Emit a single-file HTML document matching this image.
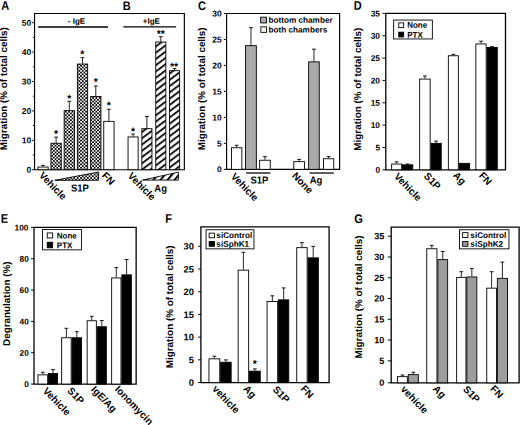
<!DOCTYPE html>
<html><head><meta charset="utf-8"><style>
html,body{margin:0;padding:0;background:#fff;width:520px;height:425px;overflow:hidden}
svg{display:block}
text{font-family:"Liberation Sans",sans-serif;font-weight:bold}
svg{text-rendering:geometricPrecision}
</style></head><body>
<svg width="520" height="425" viewBox="0 0 520 425">
<defs><pattern id="chk" patternUnits="userSpaceOnUse" x="0.3" y="0.3" width="3.4" height="3.4"><rect width="3.4" height="3.4" fill="#000"/><rect x="0" y="0" width="1.7" height="1.7" fill="#fff"/><rect x="1.7" y="1.7" width="1.7" height="1.7" fill="#fff"/></pattern><pattern id="hatch" patternUnits="userSpaceOnUse" width="5.0" height="5.0" patternTransform="rotate(-37)"><rect width="5.0" height="5.0" fill="#fff"/><rect width="5.0" height="1.75" fill="#000"/></pattern><pattern id="hatch2" patternUnits="userSpaceOnUse" x="0.5" width="5.4" height="5.4" patternTransform="rotate(-50)"><rect width="5.4" height="5.4" fill="#fff"/><rect width="5.4" height="2.0" fill="#000"/></pattern></defs>
<rect width="520" height="425" fill="#fff"/>
<path d="M34.55,169.7 V13.5 H184.35 V169.7 Z" fill="none" stroke="#000" stroke-width="1.15"/>
<line x1="32.05" y1="169.7" x2="34.55" y2="169.7" stroke="#000" stroke-width="0.95"/>
<line x1="32.05" y1="140.3" x2="34.55" y2="140.3" stroke="#000" stroke-width="0.95"/>
<line x1="32.05" y1="110.9" x2="34.55" y2="110.9" stroke="#000" stroke-width="0.95"/>
<line x1="32.05" y1="81.5" x2="34.55" y2="81.5" stroke="#000" stroke-width="0.95"/>
<line x1="32.05" y1="52.1" x2="34.55" y2="52.1" stroke="#000" stroke-width="0.95"/>
<line x1="32.05" y1="22.7" x2="34.55" y2="22.7" stroke="#000" stroke-width="0.95"/>
<line x1="32.95" y1="155" x2="34.55" y2="155" stroke="#000" stroke-width="0.95"/>
<line x1="32.95" y1="125.6" x2="34.55" y2="125.6" stroke="#000" stroke-width="0.95"/>
<line x1="32.95" y1="96.2" x2="34.55" y2="96.2" stroke="#000" stroke-width="0.95"/>
<line x1="32.95" y1="66.8" x2="34.55" y2="66.8" stroke="#000" stroke-width="0.95"/>
<line x1="32.95" y1="37.4" x2="34.55" y2="37.4" stroke="#000" stroke-width="0.95"/>
<line x1="38.1" y1="27" x2="108.1" y2="27" stroke="#000" stroke-width="1.35"/>
<line x1="123.3" y1="26.8" x2="176.1" y2="26.8" stroke="#000" stroke-width="1.35"/>
<line x1="43.05" y1="166.6" x2="43.05" y2="165.4" stroke="#000" stroke-width="0.85"/>
<line x1="41.15" y1="165.4" x2="44.95" y2="165.4" stroke="#000" stroke-width="0.9"/>
<rect x="37.95" y="167.05" width="10.2" height="2.65" fill="#fff" stroke="#000" stroke-width="0.9"/>
<line x1="56.1" y1="142.8" x2="56.1" y2="137.1" stroke="#000" stroke-width="0.85"/>
<line x1="54.2" y1="137.1" x2="58" y2="137.1" stroke="#000" stroke-width="0.9"/>
<rect x="50.95" y="143.25" width="10.3" height="26.45" fill="url(#chk)" stroke="#000" stroke-width="0.9"/>
<line x1="69.3" y1="110.2" x2="69.3" y2="101.3" stroke="#000" stroke-width="0.85"/>
<line x1="67.4" y1="101.3" x2="71.2" y2="101.3" stroke="#000" stroke-width="0.9"/>
<rect x="64.15" y="110.65" width="10.3" height="59.05" fill="url(#chk)" stroke="#000" stroke-width="0.9"/>
<line x1="82.5" y1="63.6" x2="82.5" y2="57.6" stroke="#000" stroke-width="0.85"/>
<line x1="80.6" y1="57.6" x2="84.4" y2="57.6" stroke="#000" stroke-width="0.9"/>
<rect x="77.35" y="64.05" width="10.3" height="105.65" fill="url(#chk)" stroke="#000" stroke-width="0.9"/>
<line x1="95.8" y1="96" x2="95.8" y2="86" stroke="#000" stroke-width="0.85"/>
<line x1="93.9" y1="86" x2="97.7" y2="86" stroke="#000" stroke-width="0.9"/>
<rect x="90.65" y="96.45" width="10.3" height="73.25" fill="url(#chk)" stroke="#000" stroke-width="0.9"/>
<line x1="108.9" y1="120.9" x2="108.9" y2="109.3" stroke="#000" stroke-width="0.85"/>
<line x1="107" y1="109.3" x2="110.8" y2="109.3" stroke="#000" stroke-width="0.9"/>
<rect x="103.75" y="121.35" width="10.3" height="48.35" fill="#fff" stroke="#000" stroke-width="0.9"/>
<line x1="133.1" y1="136.5" x2="133.1" y2="134.1" stroke="#000" stroke-width="0.85"/>
<line x1="131.2" y1="134.1" x2="135" y2="134.1" stroke="#000" stroke-width="0.9"/>
<rect x="128.05" y="136.95" width="10.1" height="32.75" fill="#fff" stroke="#000" stroke-width="0.9"/>
<line x1="146.9" y1="128.2" x2="146.9" y2="116.5" stroke="#000" stroke-width="0.85"/>
<line x1="145" y1="116.5" x2="148.8" y2="116.5" stroke="#000" stroke-width="0.9"/>
<rect x="141.85" y="128.65" width="10.1" height="41.05" fill="url(#hatch)" stroke="#000" stroke-width="0.9"/>
<line x1="160.8" y1="41.6" x2="160.8" y2="36.7" stroke="#000" stroke-width="0.85"/>
<line x1="158.9" y1="36.7" x2="162.7" y2="36.7" stroke="#000" stroke-width="0.9"/>
<rect x="155.75" y="42.05" width="10.1" height="127.65" fill="url(#hatch)" stroke="#000" stroke-width="0.9"/>
<line x1="174.6" y1="70.2" x2="174.6" y2="68.6" stroke="#000" stroke-width="0.85"/>
<line x1="172.7" y1="68.6" x2="176.5" y2="68.6" stroke="#000" stroke-width="0.9"/>
<rect x="169.55" y="70.65" width="10.1" height="99.05" fill="url(#hatch)" stroke="#000" stroke-width="0.9"/>
<path d="M54.9,180.3 L98.6,172.0 L98.6,180.3 Z" fill="url(#chk)" stroke="#000" stroke-width="0.9" stroke-linejoin="miter"/>
<path d="M142.6,180.1 L178.4,172.2 L178.4,180.1 Z" fill="url(#hatch2)" stroke="#000" stroke-width="0.9"/>
<path d="M226.6,169.35 V13.5 H339.6 V169.35 Z" fill="none" stroke="#000" stroke-width="1.15"/>
<line x1="223.8" y1="169.35" x2="226.6" y2="169.35" stroke="#000" stroke-width="0.95"/>
<line x1="223.8" y1="143.38" x2="226.6" y2="143.38" stroke="#000" stroke-width="0.95"/>
<line x1="223.8" y1="117.4" x2="226.6" y2="117.4" stroke="#000" stroke-width="0.95"/>
<line x1="223.8" y1="91.42" x2="226.6" y2="91.42" stroke="#000" stroke-width="0.95"/>
<line x1="223.8" y1="65.45" x2="226.6" y2="65.45" stroke="#000" stroke-width="0.95"/>
<line x1="223.8" y1="39.47" x2="226.6" y2="39.47" stroke="#000" stroke-width="0.95"/>
<line x1="223.8" y1="13.5" x2="226.6" y2="13.5" stroke="#000" stroke-width="0.95"/>
<line x1="236.65" y1="147.3" x2="236.65" y2="145.3" stroke="#000" stroke-width="0.85"/>
<line x1="234.75" y1="145.3" x2="238.55" y2="145.3" stroke="#000" stroke-width="0.9"/>
<rect x="231.45" y="147.75" width="10.4" height="21.6" fill="#fff" stroke="#000" stroke-width="0.9"/>
<line x1="250.95" y1="45.2" x2="250.95" y2="27.7" stroke="#000" stroke-width="0.85"/>
<line x1="249.05" y1="27.7" x2="252.85" y2="27.7" stroke="#000" stroke-width="0.9"/>
<rect x="245.55" y="45.65" width="10.8" height="123.7" fill="#aaaaaa" stroke="#000" stroke-width="0.9"/>
<line x1="264.95" y1="159.8" x2="264.95" y2="156.7" stroke="#000" stroke-width="0.85"/>
<line x1="263.05" y1="156.7" x2="266.85" y2="156.7" stroke="#000" stroke-width="0.9"/>
<rect x="259.65" y="160.25" width="10.6" height="9.1" fill="#fff" stroke="#000" stroke-width="0.9"/>
<line x1="299.15" y1="161.2" x2="299.15" y2="159.4" stroke="#000" stroke-width="0.85"/>
<line x1="297.25" y1="159.4" x2="301.05" y2="159.4" stroke="#000" stroke-width="0.9"/>
<rect x="293.75" y="161.65" width="10.8" height="7.7" fill="#fff" stroke="#000" stroke-width="0.9"/>
<line x1="313.95" y1="61.4" x2="313.95" y2="49.2" stroke="#000" stroke-width="0.85"/>
<line x1="312.05" y1="49.2" x2="315.85" y2="49.2" stroke="#000" stroke-width="0.9"/>
<rect x="308.65" y="61.85" width="10.6" height="107.5" fill="#aaaaaa" stroke="#000" stroke-width="0.9"/>
<line x1="328.6" y1="158.3" x2="328.6" y2="156.6" stroke="#000" stroke-width="0.85"/>
<line x1="326.7" y1="156.6" x2="330.5" y2="156.6" stroke="#000" stroke-width="0.9"/>
<rect x="323.45" y="158.75" width="10.3" height="10.6" fill="#fff" stroke="#000" stroke-width="0.9"/>
<rect x="260.65" y="17.15" width="5.9" height="5.8" fill="#aaaaaa" stroke="#000" stroke-width="0.9"/>
<rect x="260.85" y="26.85" width="5.7" height="5.5" fill="#fff" stroke="#000" stroke-width="0.9"/>
<line x1="246.1" y1="173" x2="270.4" y2="173" stroke="#000" stroke-width="1.25"/>
<line x1="309.6" y1="173" x2="333.8" y2="173" stroke="#000" stroke-width="1.25"/>
<path d="M385.8,169.8 V13.4 H505.5 V169.8 Z" fill="none" stroke="#000" stroke-width="1.3"/>
<line x1="382.4" y1="169.8" x2="385.8" y2="169.8" stroke="#000" stroke-width="0.95"/>
<line x1="382.4" y1="147.46" x2="385.8" y2="147.46" stroke="#000" stroke-width="0.95"/>
<line x1="382.4" y1="125.11" x2="385.8" y2="125.11" stroke="#000" stroke-width="0.95"/>
<line x1="382.4" y1="102.77" x2="385.8" y2="102.77" stroke="#000" stroke-width="0.95"/>
<line x1="382.4" y1="80.42" x2="385.8" y2="80.42" stroke="#000" stroke-width="0.95"/>
<line x1="382.4" y1="58.08" x2="385.8" y2="58.08" stroke="#000" stroke-width="0.95"/>
<line x1="382.4" y1="35.73" x2="385.8" y2="35.73" stroke="#000" stroke-width="0.95"/>
<line x1="382.4" y1="13.38" x2="385.8" y2="13.38" stroke="#000" stroke-width="0.95"/>
<line x1="396.65" y1="163.6" x2="396.65" y2="161.8" stroke="#000" stroke-width="0.85"/>
<line x1="394.75" y1="161.8" x2="398.55" y2="161.8" stroke="#000" stroke-width="0.9"/>
<rect x="391.65" y="164.05" width="10" height="5.75" fill="#fff" stroke="#000" stroke-width="0.9"/>
<line x1="407.65" y1="164.4" x2="407.65" y2="164" stroke="#000" stroke-width="0.85"/>
<line x1="405.75" y1="164" x2="409.55" y2="164" stroke="#000" stroke-width="0.9"/>
<rect x="402.55" y="164.85" width="10.2" height="4.95" fill="#000" stroke="#000" stroke-width="0.9"/>
<line x1="424.9" y1="78.6" x2="424.9" y2="76" stroke="#000" stroke-width="0.85"/>
<line x1="423" y1="76" x2="426.8" y2="76" stroke="#000" stroke-width="0.9"/>
<rect x="419.65" y="79.05" width="10.5" height="90.75" fill="#fff" stroke="#000" stroke-width="0.9"/>
<line x1="436.15" y1="142.9" x2="436.15" y2="141.1" stroke="#000" stroke-width="0.85"/>
<line x1="434.25" y1="141.1" x2="438.05" y2="141.1" stroke="#000" stroke-width="0.9"/>
<rect x="431.05" y="143.35" width="10.2" height="26.45" fill="#000" stroke="#000" stroke-width="0.9"/>
<line x1="453.35" y1="55.3" x2="453.35" y2="54.4" stroke="#000" stroke-width="0.85"/>
<line x1="451.45" y1="54.4" x2="455.25" y2="54.4" stroke="#000" stroke-width="0.9"/>
<rect x="448.35" y="55.75" width="10" height="114.05" fill="#fff" stroke="#000" stroke-width="0.9"/>
<rect x="459.25" y="163.35" width="10.4" height="6.45" fill="#000" stroke="#000" stroke-width="0.9"/>
<line x1="481" y1="43.5" x2="481" y2="41.2" stroke="#000" stroke-width="0.85"/>
<line x1="479.1" y1="41.2" x2="482.9" y2="41.2" stroke="#000" stroke-width="0.9"/>
<rect x="475.85" y="43.95" width="10.3" height="125.85" fill="#fff" stroke="#000" stroke-width="0.9"/>
<line x1="492.15" y1="47" x2="492.15" y2="46.6" stroke="#000" stroke-width="0.85"/>
<line x1="490.25" y1="46.6" x2="494.05" y2="46.6" stroke="#000" stroke-width="0.9"/>
<rect x="487.05" y="47.45" width="10.2" height="122.35" fill="#000" stroke="#000" stroke-width="0.9"/>
<rect x="393.65" y="20.05" width="38.7" height="18.9" fill="#fff" stroke="#000" stroke-width="0.9"/>
<rect x="398.75" y="22.85" width="4.9" height="4.8" fill="#fff" stroke="#000" stroke-width="0.9"/>
<rect x="398.75" y="32.15" width="4.9" height="4.8" fill="#000" stroke="#000" stroke-width="0.9"/>
<path d="M34,384.05 V227.45 H136.15 V384.05 Z" fill="none" stroke="#000" stroke-width="1.3"/>
<line x1="30.9" y1="384.05" x2="34" y2="384.05" stroke="#000" stroke-width="0.95"/>
<line x1="30.9" y1="352.73" x2="34" y2="352.73" stroke="#000" stroke-width="0.95"/>
<line x1="30.9" y1="321.41" x2="34" y2="321.41" stroke="#000" stroke-width="0.95"/>
<line x1="30.9" y1="290.09" x2="34" y2="290.09" stroke="#000" stroke-width="0.95"/>
<line x1="30.9" y1="258.77" x2="34" y2="258.77" stroke="#000" stroke-width="0.95"/>
<line x1="30.9" y1="227.45" x2="34" y2="227.45" stroke="#000" stroke-width="0.95"/>
<line x1="42.8" y1="374.4" x2="42.8" y2="372.3" stroke="#000" stroke-width="0.85"/>
<line x1="40.9" y1="372.3" x2="44.7" y2="372.3" stroke="#000" stroke-width="0.9"/>
<rect x="37.95" y="374.85" width="9.7" height="9.2" fill="#fff" stroke="#000" stroke-width="0.9"/>
<line x1="53.05" y1="373.1" x2="53.05" y2="369.6" stroke="#000" stroke-width="0.85"/>
<line x1="51.15" y1="369.6" x2="54.95" y2="369.6" stroke="#000" stroke-width="0.9"/>
<rect x="48.55" y="373.55" width="9" height="10.5" fill="#000" stroke="#000" stroke-width="0.9"/>
<line x1="66.4" y1="337.3" x2="66.4" y2="328.3" stroke="#000" stroke-width="0.85"/>
<line x1="64.5" y1="328.3" x2="68.3" y2="328.3" stroke="#000" stroke-width="0.9"/>
<rect x="61.65" y="337.75" width="9.5" height="46.3" fill="#fff" stroke="#000" stroke-width="0.9"/>
<line x1="76.8" y1="337.3" x2="76.8" y2="331.7" stroke="#000" stroke-width="0.85"/>
<line x1="74.9" y1="331.7" x2="78.7" y2="331.7" stroke="#000" stroke-width="0.9"/>
<rect x="72.05" y="337.75" width="9.5" height="46.3" fill="#000" stroke="#000" stroke-width="0.9"/>
<line x1="91.75" y1="320.3" x2="91.75" y2="316.3" stroke="#000" stroke-width="0.85"/>
<line x1="89.85" y1="316.3" x2="93.65" y2="316.3" stroke="#000" stroke-width="0.9"/>
<rect x="87.15" y="320.75" width="9.2" height="63.3" fill="#fff" stroke="#000" stroke-width="0.9"/>
<line x1="101.8" y1="326.3" x2="101.8" y2="320.5" stroke="#000" stroke-width="0.85"/>
<line x1="99.9" y1="320.5" x2="103.7" y2="320.5" stroke="#000" stroke-width="0.9"/>
<rect x="97.25" y="326.75" width="9.1" height="57.3" fill="#000" stroke="#000" stroke-width="0.9"/>
<line x1="116.3" y1="277.5" x2="116.3" y2="267.6" stroke="#000" stroke-width="0.85"/>
<line x1="114.4" y1="267.6" x2="118.2" y2="267.6" stroke="#000" stroke-width="0.9"/>
<rect x="111.65" y="277.95" width="9.3" height="106.1" fill="#fff" stroke="#000" stroke-width="0.9"/>
<line x1="126.6" y1="274.4" x2="126.6" y2="259.5" stroke="#000" stroke-width="0.85"/>
<line x1="124.7" y1="259.5" x2="128.5" y2="259.5" stroke="#000" stroke-width="0.9"/>
<rect x="121.85" y="274.85" width="9.5" height="109.2" fill="#000" stroke="#000" stroke-width="0.9"/>
<rect x="42.55" y="229.55" width="38.9" height="20.3" fill="#fff" stroke="#000" stroke-width="0.9"/>
<rect x="47.25" y="232.95" width="5.4" height="5" fill="#fff" stroke="#000" stroke-width="0.9"/>
<rect x="47.25" y="242.25" width="5.4" height="5.5" fill="#000" stroke="#000" stroke-width="0.9"/>
<path d="M200.9,382.6 V226.8 H329.1 V382.6 Z" fill="none" stroke="#000" stroke-width="1.3"/>
<line x1="198.1" y1="382.5" x2="200.9" y2="382.5" stroke="#000" stroke-width="0.95"/>
<line x1="198.1" y1="359.8" x2="200.9" y2="359.8" stroke="#000" stroke-width="0.95"/>
<line x1="198.1" y1="337.1" x2="200.9" y2="337.1" stroke="#000" stroke-width="0.95"/>
<line x1="198.1" y1="314.4" x2="200.9" y2="314.4" stroke="#000" stroke-width="0.95"/>
<line x1="198.1" y1="291.7" x2="200.9" y2="291.7" stroke="#000" stroke-width="0.95"/>
<line x1="198.1" y1="269" x2="200.9" y2="269" stroke="#000" stroke-width="0.95"/>
<line x1="198.1" y1="246.3" x2="200.9" y2="246.3" stroke="#000" stroke-width="0.95"/>
<line x1="214.35" y1="358.4" x2="214.35" y2="356.2" stroke="#000" stroke-width="0.85"/>
<line x1="212.45" y1="356.2" x2="216.25" y2="356.2" stroke="#000" stroke-width="0.9"/>
<rect x="208.95" y="358.85" width="10.8" height="23.75" fill="#fff" stroke="#000" stroke-width="0.9"/>
<line x1="225.9" y1="361.8" x2="225.9" y2="359.9" stroke="#000" stroke-width="0.85"/>
<line x1="224" y1="359.9" x2="227.8" y2="359.9" stroke="#000" stroke-width="0.9"/>
<rect x="220.65" y="362.25" width="10.5" height="20.35" fill="#000" stroke="#000" stroke-width="0.9"/>
<line x1="243.4" y1="269.7" x2="243.4" y2="252.3" stroke="#000" stroke-width="0.85"/>
<line x1="241.5" y1="252.3" x2="245.3" y2="252.3" stroke="#000" stroke-width="0.9"/>
<rect x="238.15" y="270.15" width="10.5" height="112.45" fill="#fff" stroke="#000" stroke-width="0.9"/>
<line x1="254.9" y1="370.7" x2="254.9" y2="368.9" stroke="#000" stroke-width="0.85"/>
<line x1="253" y1="368.9" x2="256.8" y2="368.9" stroke="#000" stroke-width="0.9"/>
<rect x="249.55" y="371.15" width="10.7" height="11.45" fill="#000" stroke="#000" stroke-width="0.9"/>
<line x1="272.35" y1="301.1" x2="272.35" y2="295.8" stroke="#000" stroke-width="0.85"/>
<line x1="270.45" y1="295.8" x2="274.25" y2="295.8" stroke="#000" stroke-width="0.9"/>
<rect x="267.05" y="301.55" width="10.6" height="81.05" fill="#fff" stroke="#000" stroke-width="0.9"/>
<line x1="283.65" y1="299.4" x2="283.65" y2="287.9" stroke="#000" stroke-width="0.85"/>
<line x1="281.75" y1="287.9" x2="285.55" y2="287.9" stroke="#000" stroke-width="0.9"/>
<rect x="278.55" y="299.85" width="10.2" height="82.75" fill="#000" stroke="#000" stroke-width="0.9"/>
<line x1="301.95" y1="247.2" x2="301.95" y2="242.6" stroke="#000" stroke-width="0.85"/>
<line x1="300.05" y1="242.6" x2="303.85" y2="242.6" stroke="#000" stroke-width="0.9"/>
<rect x="296.75" y="247.65" width="10.4" height="134.95" fill="#fff" stroke="#000" stroke-width="0.9"/>
<line x1="313.2" y1="257.4" x2="313.2" y2="246.4" stroke="#000" stroke-width="0.85"/>
<line x1="311.3" y1="246.4" x2="315.1" y2="246.4" stroke="#000" stroke-width="0.9"/>
<rect x="308.05" y="257.85" width="10.3" height="124.75" fill="#000" stroke="#000" stroke-width="0.9"/>
<rect x="206.05" y="229.75" width="47.9" height="19.1" fill="#fff" stroke="#000" stroke-width="0.9"/>
<rect x="209.15" y="233.15" width="5.3" height="4.6" fill="#fff" stroke="#000" stroke-width="0.9"/>
<rect x="209.15" y="241.45" width="5.3" height="4.8" fill="#000" stroke="#000" stroke-width="0.9"/>
<path d="M391.2,382.8 V227.1 H519.1 V382.8 Z" fill="none" stroke="#000" stroke-width="1.3"/>
<line x1="387.8" y1="382.75" x2="391.2" y2="382.75" stroke="#000" stroke-width="0.95"/>
<line x1="387.8" y1="360.83" x2="391.2" y2="360.83" stroke="#000" stroke-width="0.95"/>
<line x1="387.8" y1="340.06" x2="391.2" y2="340.06" stroke="#000" stroke-width="0.95"/>
<line x1="387.8" y1="319.29" x2="391.2" y2="319.29" stroke="#000" stroke-width="0.95"/>
<line x1="387.8" y1="298.52" x2="391.2" y2="298.52" stroke="#000" stroke-width="0.95"/>
<line x1="387.8" y1="277.75" x2="391.2" y2="277.75" stroke="#000" stroke-width="0.95"/>
<line x1="387.8" y1="256.98" x2="391.2" y2="256.98" stroke="#000" stroke-width="0.95"/>
<line x1="387.8" y1="236.21" x2="391.2" y2="236.21" stroke="#000" stroke-width="0.95"/>
<line x1="402.45" y1="376.2" x2="402.45" y2="375" stroke="#000" stroke-width="0.85"/>
<line x1="400.55" y1="375" x2="404.35" y2="375" stroke="#000" stroke-width="0.9"/>
<rect x="397.55" y="376.65" width="9.8" height="6.15" fill="#fff" stroke="#000" stroke-width="0.9"/>
<line x1="413.3" y1="374.2" x2="413.3" y2="372.3" stroke="#000" stroke-width="0.85"/>
<line x1="411.4" y1="372.3" x2="415.2" y2="372.3" stroke="#000" stroke-width="0.9"/>
<rect x="408.25" y="374.65" width="10.1" height="8.15" fill="#9d9d9d" stroke="#000" stroke-width="0.9"/>
<line x1="431.85" y1="248.3" x2="431.85" y2="245.4" stroke="#000" stroke-width="0.85"/>
<line x1="429.95" y1="245.4" x2="433.75" y2="245.4" stroke="#000" stroke-width="0.9"/>
<rect x="426.75" y="248.75" width="10.2" height="134.05" fill="#fff" stroke="#000" stroke-width="0.9"/>
<line x1="442.75" y1="259.2" x2="442.75" y2="251.5" stroke="#000" stroke-width="0.85"/>
<line x1="440.85" y1="251.5" x2="444.65" y2="251.5" stroke="#000" stroke-width="0.9"/>
<rect x="437.85" y="259.65" width="9.8" height="123.15" fill="#9d9d9d" stroke="#000" stroke-width="0.9"/>
<line x1="461.3" y1="276.9" x2="461.3" y2="271.7" stroke="#000" stroke-width="0.85"/>
<line x1="459.4" y1="271.7" x2="463.2" y2="271.7" stroke="#000" stroke-width="0.9"/>
<rect x="456.65" y="277.35" width="9.3" height="105.45" fill="#fff" stroke="#000" stroke-width="0.9"/>
<line x1="471.85" y1="276.5" x2="471.85" y2="268.5" stroke="#000" stroke-width="0.85"/>
<line x1="469.95" y1="268.5" x2="473.75" y2="268.5" stroke="#000" stroke-width="0.9"/>
<rect x="466.85" y="276.95" width="10" height="105.85" fill="#9d9d9d" stroke="#000" stroke-width="0.9"/>
<line x1="491.6" y1="287.7" x2="491.6" y2="271.7" stroke="#000" stroke-width="0.85"/>
<line x1="489.7" y1="271.7" x2="493.5" y2="271.7" stroke="#000" stroke-width="0.9"/>
<rect x="486.75" y="288.15" width="9.7" height="94.65" fill="#fff" stroke="#000" stroke-width="0.9"/>
<line x1="502.4" y1="277.9" x2="502.4" y2="262.1" stroke="#000" stroke-width="0.85"/>
<line x1="500.5" y1="262.1" x2="504.3" y2="262.1" stroke="#000" stroke-width="0.9"/>
<rect x="497.35" y="278.35" width="10.1" height="104.45" fill="#9d9d9d" stroke="#000" stroke-width="0.9"/>
<rect x="459.45" y="229.75" width="49.5" height="19.1" fill="#fff" stroke="#000" stroke-width="0.9"/>
<rect x="462.65" y="232.65" width="5.3" height="4.8" fill="#fff" stroke="#000" stroke-width="0.9"/>
<rect x="462.65" y="241.45" width="5.3" height="4.8" fill="#9d9d9d" stroke="#000" stroke-width="0.9"/>
<text transform="translate(26.58,172.7) rotate(0.05)" font-size="8.5" font-family="Liberation Sans" font-weight="bold">0</text>
<text transform="translate(21.78,143.3) rotate(0.05)" font-size="8.5" font-family="Liberation Sans" font-weight="bold">10</text>
<text transform="translate(21.78,113.9) rotate(0.05)" font-size="8.5" font-family="Liberation Sans" font-weight="bold">20</text>
<text transform="translate(21.78,84.5) rotate(0.05)" font-size="8.5" font-family="Liberation Sans" font-weight="bold">30</text>
<text transform="translate(21.78,55.1) rotate(0.05)" font-size="8.5" font-family="Liberation Sans" font-weight="bold">40</text>
<text transform="translate(21.78,25.7) rotate(0.05)" font-size="8.5" font-family="Liberation Sans" font-weight="bold">50</text>
<text transform="translate(1.27,9.84) rotate(0.05) scale(0.89,1)" font-size="12.4" font-family="Liberation Sans" font-weight="bold">A</text>
<text transform="translate(122.87,9.9) rotate(0.05) scale(0.89,1)" font-size="12.4" font-family="Liberation Sans" font-weight="bold">B</text>
<text transform="translate(7.15,150.15) rotate(-90)" font-size="9.9" font-family="Liberation Sans" font-weight="bold">Migration (% of total cells)</text>
<text transform="translate(67.83,23.7) rotate(0.05)" font-size="8" font-family="Liberation Sans" font-weight="bold">- IgE</text>
<text transform="translate(142.83,23.7) rotate(0.05)" font-size="8" font-family="Liberation Sans" font-weight="bold">+IgE</text>
<text transform="translate(54.06,137.2) rotate(0.05)" font-size="10.5" font-family="Liberation Sans" font-weight="bold">*</text>
<text transform="translate(67.26,102) rotate(0.05)" font-size="10.5" font-family="Liberation Sans" font-weight="bold">*</text>
<text transform="translate(80.26,57.6) rotate(0.05)" font-size="10.5" font-family="Liberation Sans" font-weight="bold">*</text>
<text transform="translate(93.76,85.3) rotate(0.05)" font-size="10.5" font-family="Liberation Sans" font-weight="bold">*</text>
<text transform="translate(106.86,108.8) rotate(0.05)" font-size="10.5" font-family="Liberation Sans" font-weight="bold">*</text>
<text transform="translate(131.06,134.8) rotate(0.05)" font-size="10.5" font-family="Liberation Sans" font-weight="bold">*</text>
<text transform="translate(156.76,37.3) rotate(0.05)" font-size="10.5" font-family="Liberation Sans" font-weight="bold">**</text>
<text transform="translate(169.96,70.1) rotate(0.05)" font-size="10.5" font-family="Liberation Sans" font-weight="bold">**</text>
<text transform="translate(70.91,191.6) rotate(0.05) scale(0.93,1)" font-size="10.2" font-family="Liberation Sans" font-weight="bold">S1P</text>
<text transform="translate(154.3,191.63) rotate(0.05) scale(0.93,1)" font-size="10.2" font-family="Liberation Sans" font-weight="bold">Ag</text>
<text transform="translate(38.44,175.83) rotate(46)" font-size="10" font-family="Liberation Sans" font-weight="bold">Vehicle</text>
<text transform="translate(101.18,176.05) rotate(46)" font-size="10" font-family="Liberation Sans" font-weight="bold">FN</text>
<text transform="translate(127.34,176.28) rotate(46)" font-size="10" font-family="Liberation Sans" font-weight="bold">Vehicle</text>
<text transform="translate(216.98,172.35) rotate(0.05)" font-size="8.5" font-family="Liberation Sans" font-weight="bold">0</text>
<text transform="translate(216.93,146.38) rotate(0.05)" font-size="8.5" font-family="Liberation Sans" font-weight="bold">5</text>
<text transform="translate(212.18,120.4) rotate(0.05)" font-size="8.5" font-family="Liberation Sans" font-weight="bold">10</text>
<text transform="translate(212.15,94.42) rotate(0.05)" font-size="8.5" font-family="Liberation Sans" font-weight="bold">15</text>
<text transform="translate(212.18,68.45) rotate(0.05)" font-size="8.5" font-family="Liberation Sans" font-weight="bold">20</text>
<text transform="translate(212.15,42.47) rotate(0.05)" font-size="8.5" font-family="Liberation Sans" font-weight="bold">25</text>
<text transform="translate(212.18,16.5) rotate(0.05)" font-size="8.5" font-family="Liberation Sans" font-weight="bold">30</text>
<text transform="translate(198.08,9.9) rotate(0.05) scale(0.89,1)" font-size="12.4" font-family="Liberation Sans" font-weight="bold">C</text>
<text transform="translate(205.2,150.25) rotate(-90)" font-size="9.9" font-family="Liberation Sans" font-weight="bold">Migration (% of total cells)</text>
<text transform="translate(268.5,22.7) rotate(0.05)" font-size="8.2" font-family="Liberation Sans" font-weight="bold">bottom chamber</text>
<text transform="translate(268.5,32.4) rotate(0.05)" font-size="8.2" font-family="Liberation Sans" font-weight="bold">both chambers</text>
<text transform="translate(250.41,183.4) rotate(0.05) scale(0.93,1)" font-size="10.2" font-family="Liberation Sans" font-weight="bold">S1P</text>
<text transform="translate(309.75,183.43) rotate(0.05) scale(0.93,1)" font-size="10.2" font-family="Liberation Sans" font-weight="bold">Ag</text>
<text transform="translate(230.29,176.88) rotate(46)" font-size="10" font-family="Liberation Sans" font-weight="bold">Vehicle</text>
<text transform="translate(291.42,176.37) rotate(46)" font-size="10" font-family="Liberation Sans" font-weight="bold">None</text>
<text transform="translate(375.45,172.8) rotate(0.05)" font-size="8.3" font-family="Liberation Sans" font-weight="bold">0</text>
<text transform="translate(375.41,150.46) rotate(0.05)" font-size="8.3" font-family="Liberation Sans" font-weight="bold">5</text>
<text transform="translate(370.73,128.11) rotate(0.05)" font-size="8.3" font-family="Liberation Sans" font-weight="bold">10</text>
<text transform="translate(370.73,105.77) rotate(0.05)" font-size="8.3" font-family="Liberation Sans" font-weight="bold">15</text>
<text transform="translate(370.73,83.42) rotate(0.05)" font-size="8.3" font-family="Liberation Sans" font-weight="bold">20</text>
<text transform="translate(370.73,61.08) rotate(0.05)" font-size="8.3" font-family="Liberation Sans" font-weight="bold">25</text>
<text transform="translate(370.73,38.73) rotate(0.05)" font-size="8.3" font-family="Liberation Sans" font-weight="bold">30</text>
<text transform="translate(370.73,16.38) rotate(0.05)" font-size="8.3" font-family="Liberation Sans" font-weight="bold">35</text>
<text transform="translate(353.77,9.68) rotate(0.05) scale(0.89,1)" font-size="12.4" font-family="Liberation Sans" font-weight="bold">D</text>
<text transform="translate(361,150.65) rotate(-90)" font-size="9.9" font-family="Liberation Sans" font-weight="bold">Migration (% of total cells)</text>
<text transform="translate(407.22,27.7) rotate(0.05) scale(0.96,1)" font-size="8.3" font-family="Liberation Sans" font-weight="bold">None</text>
<text transform="translate(407.22,37.8) rotate(0.05) scale(0.96,1)" font-size="8.3" font-family="Liberation Sans" font-weight="bold">PTX</text>
<text transform="translate(393.54,176.88) rotate(46)" font-size="10" font-family="Liberation Sans" font-weight="bold">Vehicle</text>
<text transform="translate(423.27,176.61) rotate(46)" font-size="10" font-family="Liberation Sans" font-weight="bold">S1P</text>
<text transform="translate(452.56,175.8) rotate(46)" font-size="10" font-family="Liberation Sans" font-weight="bold">Ag</text>
<text transform="translate(478.38,176.05) rotate(46)" font-size="10" font-family="Liberation Sans" font-weight="bold">FN</text>
<text transform="translate(24.25,387.05) rotate(0.05)" font-size="8.3" font-family="Liberation Sans" font-weight="bold">0</text>
<text transform="translate(19.53,355.73) rotate(0.05)" font-size="8.3" font-family="Liberation Sans" font-weight="bold">20</text>
<text transform="translate(19.53,324.41) rotate(0.05)" font-size="8.3" font-family="Liberation Sans" font-weight="bold">40</text>
<text transform="translate(19.53,293.09) rotate(0.05)" font-size="8.3" font-family="Liberation Sans" font-weight="bold">60</text>
<text transform="translate(19.53,261.77) rotate(0.05)" font-size="8.3" font-family="Liberation Sans" font-weight="bold">80</text>
<text transform="translate(14.59,230.45) rotate(0.05)" font-size="8.3" font-family="Liberation Sans" font-weight="bold">100</text>
<text transform="translate(0.86,222.65) rotate(0.05) scale(0.89,1)" font-size="12.4" font-family="Liberation Sans" font-weight="bold">E</text>
<text transform="translate(10.4,345.95) rotate(-90)" font-size="9.9" font-family="Liberation Sans" font-weight="bold">Degranulation (%)</text>
<text transform="translate(56.82,238.4) rotate(0.05) scale(0.96,1)" font-size="8.3" font-family="Liberation Sans" font-weight="bold">None</text>
<text transform="translate(56.82,248.2) rotate(0.05) scale(0.96,1)" font-size="8.3" font-family="Liberation Sans" font-weight="bold">PTX</text>
<text transform="translate(42.34,391.43) rotate(46)" font-size="10" font-family="Liberation Sans" font-weight="bold">Vehicle</text>
<text transform="translate(66.82,391.26) rotate(46)" font-size="10" font-family="Liberation Sans" font-weight="bold">S1P</text>
<text transform="translate(90.58,390.07) rotate(46)" font-size="10" font-family="Liberation Sans" font-weight="bold">IgE/Ag</text>
<text transform="translate(114.24,389.78) rotate(46)" font-size="10" font-family="Liberation Sans" font-weight="bold">Ionomycin</text>
<text transform="translate(188.73,385.71) rotate(0.05)" font-size="9.4" font-family="Liberation Sans" font-weight="bold">0</text>
<text transform="translate(188.69,363.3) rotate(0.05)" font-size="9.4" font-family="Liberation Sans" font-weight="bold">5</text>
<text transform="translate(183.59,340.32) rotate(0.05)" font-size="9.4" font-family="Liberation Sans" font-weight="bold">10</text>
<text transform="translate(183.53,317.9) rotate(0.05)" font-size="9.4" font-family="Liberation Sans" font-weight="bold">15</text>
<text transform="translate(183.59,294.9) rotate(0.05)" font-size="9.4" font-family="Liberation Sans" font-weight="bold">20</text>
<text transform="translate(183.53,272.5) rotate(0.05)" font-size="9.4" font-family="Liberation Sans" font-weight="bold">25</text>
<text transform="translate(183.59,249.5) rotate(0.05)" font-size="9.4" font-family="Liberation Sans" font-weight="bold">30</text>
<text transform="translate(165.37,222.75) rotate(0.05) scale(0.89,1)" font-size="12.4" font-family="Liberation Sans" font-weight="bold">F</text>
<text transform="translate(172.6,368.25) rotate(-90)" font-size="9.9" font-family="Liberation Sans" font-weight="bold">Migration (% of total cells)</text>
<text transform="translate(252.66,367.2) rotate(0.05)" font-size="10.5" font-family="Liberation Sans" font-weight="bold">*</text>
<text transform="translate(216.35,237.9) rotate(0.05)" font-size="8.2" font-family="Liberation Sans" font-weight="bold">siControl</text>
<text transform="translate(216.35,246.7) rotate(0.05)" font-size="8.2" font-family="Liberation Sans" font-weight="bold">siSphK1</text>
<text transform="translate(211.85,389.58) rotate(46)" font-size="10" font-family="Liberation Sans" font-weight="bold">vehicle</text>
<text transform="translate(242.71,389.25) rotate(46)" font-size="10" font-family="Liberation Sans" font-weight="bold">Ag</text>
<text transform="translate(272.17,390.01) rotate(46)" font-size="10" font-family="Liberation Sans" font-weight="bold">S1P</text>
<text transform="translate(300.13,389.35) rotate(46)" font-size="10" font-family="Liberation Sans" font-weight="bold">FN</text>
<text transform="translate(379.17,385.83) rotate(0.05)" font-size="9.1" font-family="Liberation Sans" font-weight="bold">0</text>
<text transform="translate(379.15,363.96) rotate(0.05)" font-size="9.1" font-family="Liberation Sans" font-weight="bold">5</text>
<text transform="translate(374.17,343.16) rotate(0.05)" font-size="9.1" font-family="Liberation Sans" font-weight="bold">10</text>
<text transform="translate(374.15,322.42) rotate(0.05)" font-size="9.1" font-family="Liberation Sans" font-weight="bold">15</text>
<text transform="translate(374.17,301.6) rotate(0.05)" font-size="9.1" font-family="Liberation Sans" font-weight="bold">20</text>
<text transform="translate(374.15,280.88) rotate(0.05)" font-size="9.1" font-family="Liberation Sans" font-weight="bold">25</text>
<text transform="translate(374.17,260.07) rotate(0.05)" font-size="9.1" font-family="Liberation Sans" font-weight="bold">30</text>
<text transform="translate(374.15,239.34) rotate(0.05)" font-size="9.1" font-family="Liberation Sans" font-weight="bold">35</text>
<text transform="translate(354.14,222.88) rotate(0.05) scale(0.89,1)" font-size="12.4" font-family="Liberation Sans" font-weight="bold">G</text>
<text transform="translate(362,358.45) rotate(-90)" font-size="9.9" font-family="Liberation Sans" font-weight="bold">Migration (% of total cells)</text>
<text transform="translate(470.35,237.9) rotate(0.05)" font-size="8.2" font-family="Liberation Sans" font-weight="bold">siControl</text>
<text transform="translate(470.35,246.7) rotate(0.05)" font-size="8.2" font-family="Liberation Sans" font-weight="bold">siSphK2</text>
<text transform="translate(400.25,389.78) rotate(46)" font-size="10" font-family="Liberation Sans" font-weight="bold">vehicle</text>
<text transform="translate(432.36,389.25) rotate(46)" font-size="10" font-family="Liberation Sans" font-weight="bold">Ag</text>
<text transform="translate(462.52,389.76) rotate(46)" font-size="10" font-family="Liberation Sans" font-weight="bold">S1P</text>
<text transform="translate(489.78,389.35) rotate(46)" font-size="10" font-family="Liberation Sans" font-weight="bold">FN</text>
</svg>
</body></html>
